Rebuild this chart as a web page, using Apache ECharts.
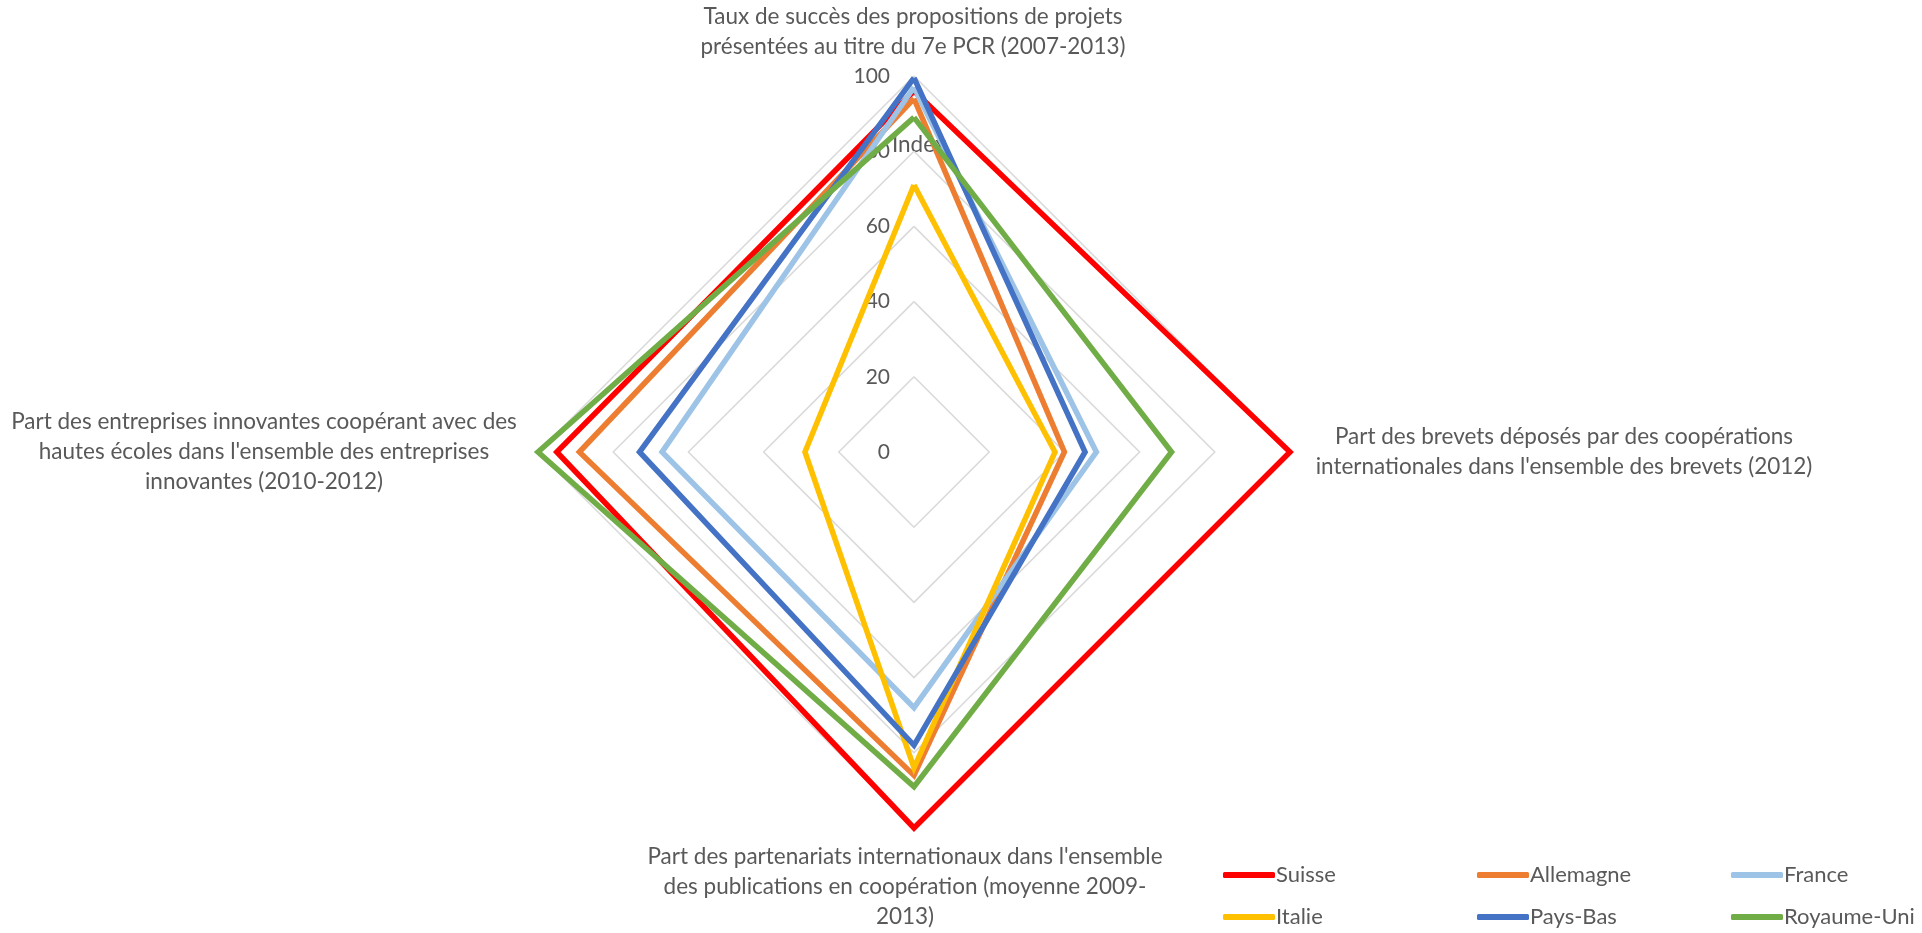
<!DOCTYPE html>
<html>
<head>
<meta charset="utf-8">
<title>Indicateurs de coopération internationale</title>
<script src="https://cdn.jsdelivr.net/npm/echarts@6/dist/echarts.min.js"></script>
<style>
  html, body { margin: 0; padding: 0; background: #ffffff; }
  #chart { width: 1922px; height: 933px; }
</style>
</head>
<body>
<div id="chart"></div>
<script>
// Radar axes, listed counter-clockwise from the top (ECharts radar order)
const axisNames = [
  "Taux de succès des propositions de projets\nprésentées au titre du 7e PCR (2007-2013)",
  "Part des entreprises innovantes coopérant avec des\nhautes écoles dans l'ensemble des entreprises\ninnovantes (2010-2012)",
  "Part des partenariats internationaux dans l'ensemble\ndes publications en coopération (moyenne 2009-\n2013)",
  "Part des brevets déposés par des coopérations\ninternationales dans l'ensemble des brevets (2012)"
];
const axisMax = 100;
const tickStep = 20;
const axisTitle = "Index";

const countries = ["Suisse", "Allemagne", "France", "Italie", "Pays-Bas", "Royaume-Uni"];
const colors = ["#ff0000", "#ed7d31", "#9dc3e6", "#ffc000", "#4472c4", "#70ad47"];

// Index values per country: [top, left, bottom, right]
const suisse     = [96, 95, 100, 100];
const allemagne  = [94, 89, 86, 40];
const france     = [97, 67, 68, 48.5];
const italie     = [71, 29, 84, 37.5];
const paysBas    = [99.5, 73, 78, 45.5];
const royaumeUni = [89, 100, 89, 68.5];
const values = [suisse, allemagne, france, italie, paysBas, royaumeUni];

const textColor = "#595959";
const fontFamily = "Lato, 'Open Sans', sans-serif";
const textSize = 22.5;
const cx = 914, cy = 452, R = 376;

const chart = echarts.init(document.getElementById("chart"));

// Axis titles, centred line by line around each spoke
const namePos = [
  { x: cx - 1, y: 32 },
  { x: 264, y: 452 },
  { x: 905, y: 887 },
  { x: 1564, y: 452 }
];
const nameGraphics = axisNames.map((t, i) => ({
  type: "text",
  x: namePos[i].x,
  y: namePos[i].y,
  style: {
    text: t,
    fill: textColor,
    font: textSize + "px " + fontFamily,
    lineHeight: 30,
    align: "center",
    verticalAlign: "middle"
  }
}));
nameGraphics.push({
  type: "text",
  x: 919,
  y: 145,
  style: {
    text: axisTitle,
    fill: textColor,
    font: textSize + "px " + fontFamily,
    align: "center",
    verticalAlign: "middle"
  }
});

// Legend laid out as three columns of two entries
const legendCols = [[0, 3], [1, 4], [2, 5]];
const legendLeft = [1223, 1477, 1731];
const legends = legendCols.map((col, k) => ({
  orient: "vertical",
  left: legendLeft[k],
  top: 864,
  itemGap: 20,
  itemWidth: 52,
  itemHeight: 6,
  icon: "roundRect",
  padding: 0,
  data: col.map(i => countries[i]),
  textStyle: { color: textColor, fontSize: 22, fontFamily: fontFamily, padding: [0, 0, 0, -4] }
}));

chart.setOption({
  animation: false,
  backgroundColor: "#ffffff",
  color: colors,
  graphic: nameGraphics,
  legend: legends,
  radar: {
    center: [cx, cy],
    radius: R,
    startAngle: 90,
    shape: "polygon",
    splitNumber: axisMax / tickStep,
    axisName: { show: false },
    axisLine: { show: false },
    axisTick: { show: false },
    axisLabel: { show: false },
    splitArea: { show: false },
    splitLine: { lineStyle: { color: "#d9d9d9", width: 1.5 } },
    indicator: axisNames.map((n, i) => {
      const ind = { name: n, min: 0, max: axisMax };
      if (i === 0) {
        ind.axisLabel = {
          show: true,
          margin: 24,
          color: textColor,
          fontSize: 21,
          fontFamily: fontFamily,
          showMinLabel: true,
          showMaxLabel: true
        };
      }
      return ind;
    })
  },
  series: [{
    type: "radar",
    symbol: "none",
    lineStyle: { width: 5.5, join: "miter" },
    data: countries.map((c, i) => ({
      name: c,
      value: values[i],
      lineStyle: { color: colors[i], width: 5.5, join: "miter" },
      itemStyle: { color: colors[i] }
    }))
  }]
});
</script>
</body>
</html>
